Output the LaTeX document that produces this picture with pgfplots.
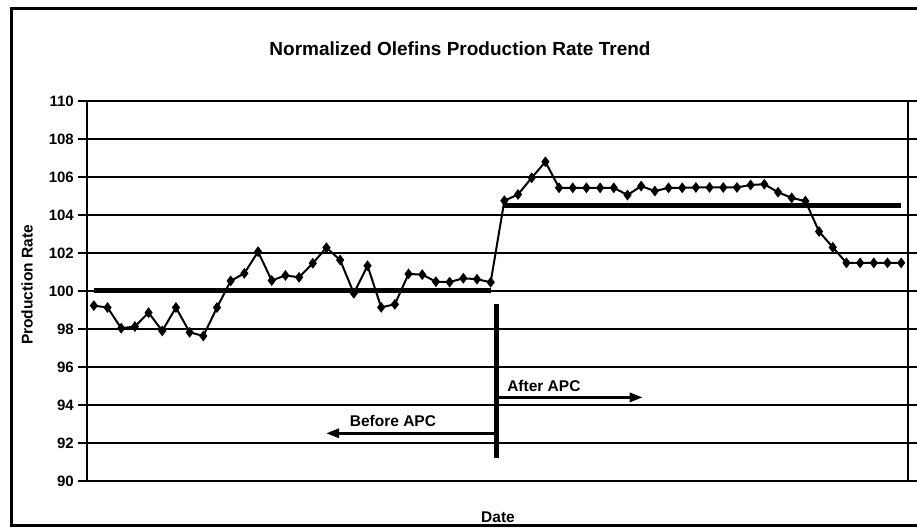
\documentclass[border=0pt]{standalone}
\usepackage{pgfplots}
\pgfplotsset{compat=1.18}
\usepackage{fontspec}
\setmainfont{Liberation Sans}
\usetikzlibrary{arrows.meta}
\begin{document}
\begin{tikzpicture}[x=1pt,y=1pt]
\begin{axis}[
  at={(87pt,46pt)}, anchor=south west,
  scale only axis, width=821pt, height=380pt,
  xmin=0.5, xmax=60.5, ymin=90, ymax=110,
  ytick={90,92,...,110}, xtick=\empty,
  ymajorgrids, major grid style={black, line width=1.1pt},
  axis line style={black, line width=1.5pt},
  tick style={black, line width=1.2pt},
  tick align=outside, major tick length=9pt,
  /pgf/number format/assume math mode=true,
  yticklabel style={font=\bfseries\fontsize{15}{17}\selectfont, anchor=east, inner sep=0pt, xshift=-4pt},
  clip=false,
]
\addplot[black, line width=2pt, mark=diamond*, mark size=3.8pt] coordinates {
(1,99.23) (2,99.13) (3,98.04) (4,98.13) (5,98.86) (6,97.90) (7,99.13) (8,97.83) (9,97.63) (10,99.13)
(11,100.53) (12,100.93) (13,102.07) (14,100.55) (15,100.82) (16,100.72) (17,101.46) (18,102.28) (19,101.63) (20,99.88)
(21,101.33) (22,99.14) (23,99.30) (24,100.90) (25,100.86) (26,100.49) (27,100.47) (28,100.67) (29,100.62) (30,100.46)
(31,104.75) (32,105.08) (33,105.96) (34,106.80) (35,105.43) (36,105.43) (37,105.43) (38,105.43) (39,105.43) (40,105.05)
(41,105.52) (42,105.26) (43,105.43) (44,105.43) (45,105.45) (46,105.45) (47,105.45) (48,105.45) (49,105.58) (50,105.62)
(51,105.20) (52,104.90) (53,104.73) (54,103.13) (55,102.30) (56,101.48) (57,101.48) (58,101.48) (59,101.48) (60,101.48)
};
\addplot[black, line width=5pt, no marks] coordinates {(1,100) (30,100)};
\addplot[black, line width=5pt, no marks] coordinates {(31,104.52) (60,104.52)};
\addplot[black, line width=4.5pt, no marks] coordinates {(30.44,91.2) (30.44,99.3)};
\draw[black, line width=3pt, -{Triangle[length=13pt,width=9pt]}] (axis cs:30.44,94.4) -- (axis cs:41.11,94.4);
\draw[black, line width=3pt, -{Triangle[length=13pt,width=9pt]}] (axis cs:30.44,92.51) -- (axis cs:17.97,92.51);
\node[anchor=west, font=\bfseries\fontsize{15.5}{18}\selectfont, inner sep=0pt] at (axis cs:31.2,95.0) {After APC};
\node[anchor=center, font=\bfseries\fontsize{15.5}{18}\selectfont, inner sep=0pt] at (axis cs:22.86,93.17) {Before APC};
\end{axis}
\node[anchor=base, font=\bfseries\fontsize{19}{22}\selectfont, inner sep=0pt] at (460,471) {Normalized Olefins Production Rate Trend};
\node[anchor=center, rotate=90, font=\bfseries\fontsize{15.5}{18}\selectfont, inner sep=0pt] at (27,242) {Production Rate};
\node[anchor=base, font=\bfseries\fontsize{15.5}{18}\selectfont, inner sep=0pt] at (498,4.5) {Date};
\draw[black, line width=3pt] (917,518) -- (11,518) -- (11,1.5) -- (917,1.5);
\pgfresetboundingbox
\useasboundingbox (0,0) rectangle (917,527);
\end{tikzpicture}
\end{document}
